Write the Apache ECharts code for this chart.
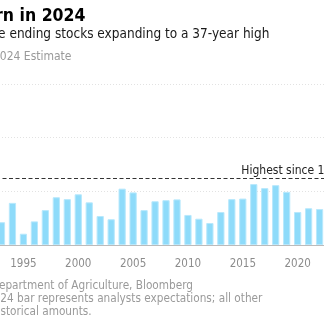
<!DOCTYPE html>
<html>
<head>
<meta charset="utf-8">
<script src="https://cdn.jsdelivr.net/npm/echarts@6/dist/echarts.min.js"></script>
<style>
  html, body { margin: 0; padding: 0; background: #fff; overflow: hidden; }
  body { position: relative; width: 324px; height: 331px; }
  #chart { position: absolute; left: -130px; top: 0; width: 484px; height: 331px; }
</style>
</head>
<body>
<div id="chart"></div>
<script>
// US corn ending stocks by marketing year, billion bushels
const years = [
  '1993', '1994', '1995', '1996', '1997', '1998', '1999', '2000', '2001', '2002',
  '2003', '2004', '2005', '2006', '2007', '2008', '2009', '2010', '2011', '2012',
  '2013', '2014', '2015', '2016', '2017', '2018', '2019', '2020', '2021', '2022',
  '2023', '2024'
];
const endingStocks = [
  0.85, 1.57, 0.42, 0.88, 1.30, 1.78, 1.71, 1.89, 1.59, 1.08,
  0.96, 2.10, 1.96, 1.30, 1.63, 1.67, 1.70, 1.12, 0.98, 0.82,
  1.23, 1.71, 1.73, 2.27, 2.12, 2.23, 1.98, 1.23, 1.37, 1.34,
  1.76
];
const estimate2024 = 2.48;
const yTicks = [0, 2, 4, 6];

const titleText = 'A Glut of Corn in 2024';
const subtitleText = 'Analysts see ending stocks expanding to a 37-year high';
const legendNames = ['Ending stocks', '2024 Estimate'];
const markText = 'Highest since 1987';
const footLines = [
  'Source: U.S. Department of Agriculture, Bloomberg',
  'Note: 2024 bar represents analysts expectations; all other',
  'bars are historical amounts.'
];

const FONT = '"DejaVu Sans Condensed", "DejaVu Sans", sans-serif';

const histData = years.map((y, i) => (i < endingStocks.length ? endingStocks[i] : '-'));
const estData = years.map(y => (y === '2024' ? estimate2024 : '-'));
const showYear = (idx, val) => Number(val) % 5 === 0;

const chart = echarts.init(document.getElementById('chart'), null, { renderer: 'canvas' });

chart.setOption({
  animation: false,
  backgroundColor: '#fff',
  textStyle: { fontFamily: FONT },
  title: [
    {
      text: titleText,
      left: 14.4, top: 2,
      textStyle: { fontFamily: FONT, fontSize: 17.5, fontWeight: 'bold', color: '#000' }
    },
    {
      text: subtitleText,
      left: 54, top: 22,
      textStyle: { fontFamily: FONT, fontSize: 13.5, fontWeight: 'normal', color: '#1a1a1a' }
    }
  ],
  legend: {
    data: legendNames,
    left: 2, top: 46,
    icon: 'rect', itemWidth: 10, itemHeight: 10, itemGap: 10,
    textStyle: { fontFamily: FONT, fontSize: 12, color: '#999' }
  },
  grid: { left: 126, right: 7, top: 84, bottom: 86, containLabel: false },
  xAxis: {
    type: 'category',
    data: years,
    axisLine: { lineStyle: { color: '#bbb', width: 1 } },
    axisTick: { alignWithLabel: true, length: 4, interval: showYear, lineStyle: { color: '#bbb' } },
    axisLabel: { interval: showYear, margin: 13, fontFamily: FONT, fontSize: 11.5, color: '#8c8c8c' }
  },
  yAxis: {
    type: 'value',
    min: yTicks[0], max: yTicks[yTicks.length - 1], interval: 2,
    position: 'right',
    axisLine: { show: false },
    axisTick: { show: false },
    axisLabel: { show: false },
    splitLine: { lineStyle: { color: '#e2e2e2', type: [1, 2] } }
  },
  series: [
    {
      name: legendNames[0],
      type: 'bar',
      stack: 'stocks',
      barWidth: '66%',
      data: histData,
      itemStyle: { color: '#8edbfa', borderColor: '#b8e8fc', borderWidth: 1 }
    },
    {
      name: legendNames[1],
      type: 'bar',
      stack: 'stocks',
      barWidth: '66%',
      data: estData,
      itemStyle: { color: '#2f8fd8' },
      markLine: {
        silent: true,
        symbol: 'none',
        lineStyle: { color: '#333', width: 1, type: [4, 2.5] },
        label: {
          show: true,
          position: 'insideEndTop',
          distance: [2, 2],
          formatter: markText,
          fontFamily: FONT, fontSize: 12, color: '#222'
        },
        data: [{ yAxis: estimate2024 }]
      }
    }
  ],
  graphic: footLines.map((line, i) => ({
    type: 'text',
    left: [53.5, 85.2, 74.3][i],
    top: 280 + i * 13,
    style: { text: line, fontFamily: FONT, fontSize: 11.7, fill: '#9a9a9a' }
  }))
});
</script>
</body>
</html>
